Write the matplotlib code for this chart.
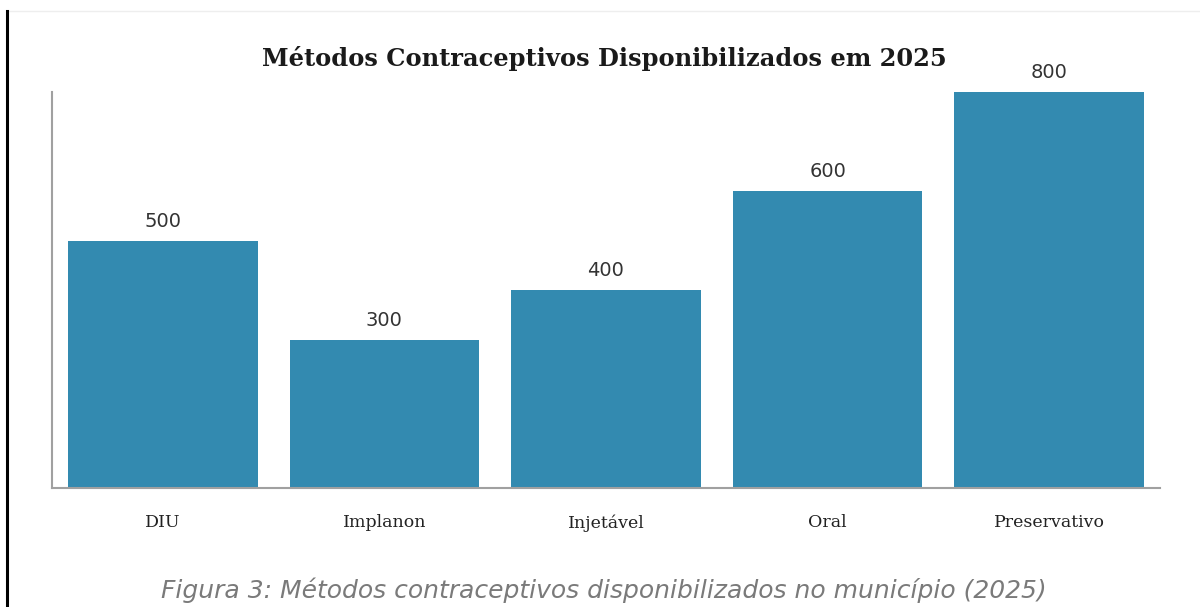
import matplotlib
matplotlib.use("Agg")
import matplotlib.pyplot as plt
from matplotlib.lines import Line2D

# Contraceptive methods distributed in 2025
metodos = ["DIU", "Implanon", "Injetável", "Oral", "Preservativo"]
quantidades = [500, 300, 400, 600, 800]

BAR_COLOR = "#338ab0"

fig = plt.figure(figsize=(12, 6.07), dpi=100)
ax = fig.add_axes([0.0433, 0.196, 0.9234, 0.652])

pos = range(len(metodos))
bars = ax.bar(pos, quantidades, width=0.855, color=BAR_COLOR)
for b, v in zip(bars, quantidades):
    ax.text(b.get_x() + b.get_width() / 2, v + 20, str(v), ha="center", va="bottom",
            fontsize=14, color="#333333", family="DejaVu Sans")

ax.set_xlim(-0.5, len(metodos) - 0.5)
ax.set_ylim(0, 800)
ax.set_xticks(list(pos))
ax.set_xticklabels(metodos, family="DejaVu Serif", fontsize=12.5, color="#222222")
ax.tick_params(axis="x", length=0, pad=19)
ax.set_yticks([])
for s in ("top", "right"):
    ax.spines[s].set_visible(False)
for s in ("left", "bottom"):
    ax.spines[s].set_color("#a0a0a0")
    ax.spines[s].set_linewidth(1.5)

fig.text(0.504, 0.903, "Métodos Contraceptivos Disponibilizados em 2025", ha="center", va="center",
         family="DejaVu Serif", fontweight="bold", fontsize=17.4, color="#1a1a1a")
fig.text(0.503, 0.028, "Figura 3: Métodos contraceptivos disponibilizados no município (2025)",
         ha="center", va="center", family="DejaVu Sans", style="italic", fontsize=18,
         color="#7a7a7a")

# page frame lines
fig.add_artist(Line2D([0.006, 1.0], [0.982, 0.982], color="#eeeeee", lw=1))
fig.add_artist(Line2D([0.006, 0.006], [0.0, 0.982], color="black", lw=2.2))

fig.savefig("out.png", dpi=100)
